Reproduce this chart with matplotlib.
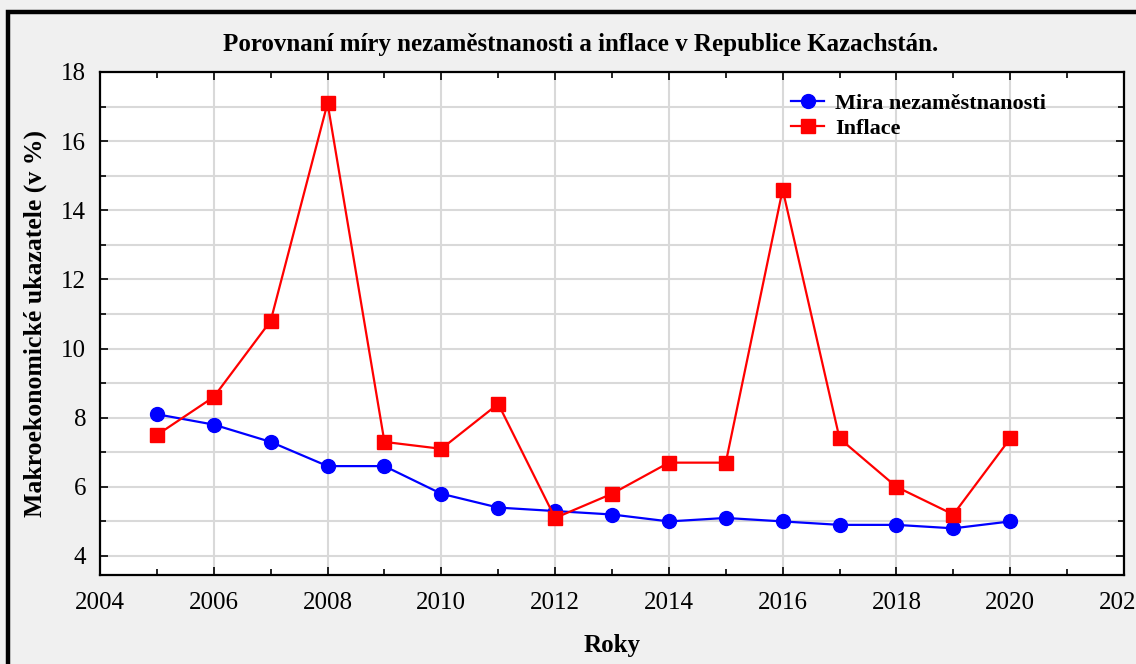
import numpy as np
import matplotlib
matplotlib.use("Agg")
import matplotlib.pyplot as plt
from matplotlib.patches import Rectangle
from matplotlib.ticker import MultipleLocator

# Data
years = [2005, 2006, 2007, 2008, 2009, 2010, 2011, 2012, 2013, 2014, 2015, 2016, 2017, 2018, 2019, 2020]
unemployment = [8.1, 7.8, 7.3, 6.6, 6.6, 5.8, 5.4, 5.3, 5.2, 5.0, 5.1, 5.0, 4.9, 4.9, 4.8, 5.0]
inflation = [7.5, 8.6, 10.8, 17.1, 7.3, 7.1, 8.4, 5.1, 5.8, 6.7, 6.7, 14.6, 7.4, 6.0, 5.2, 7.4]

title = "Porovnaní míry nezaměstnanosti a inflace v Republice Kazachstán."
x_label = "Roky"
y_label = "Makroekonomické ukazatele (v %)"
legend_labels = ["Mira nezaměstnanosti", "Inflace"]

plt.rcParams['font.family'] = ['Liberation Serif', 'DejaVu Serif']

figure = plt.figure(figsize=(11.36, 6.64), dpi=100)
figure.patch.set_facecolor("#f0f0f0")

# thick black frame around the whole picture (right/bottom fall off the image)
figure.patches.append(Rectangle((8 / 1136, -0.05), 1.2, 1 - 12 / 664 + 0.05,
                                transform=figure.transFigure, fill=False,
                                edgecolor="black", linewidth=3.2, zorder=10))

axes = figure.add_axes([100 / 1136, 89 / 664, 1024 / 1136, 503 / 664])
axes.set_facecolor("white")

axes.plot(years, unemployment, color="blue", marker="o", markersize=10,
          linewidth=1.6, label=legend_labels[0], zorder=3)
axes.plot(years, inflation, color="red", marker="s", markersize=9.5,
          linewidth=1.6, label=legend_labels[1], zorder=3)

axes.set_xlim(2004, 2022)
axes.set_ylim(3.45, 18)
axes.xaxis.set_major_locator(MultipleLocator(2))
axes.xaxis.set_minor_locator(MultipleLocator(1))
axes.yaxis.set_major_locator(MultipleLocator(2))
axes.yaxis.set_minor_locator(MultipleLocator(1))

axes.grid(True, which="major", axis="x", color="#d9d9d9", linewidth=1.5, zorder=0)
axes.grid(True, which="both", axis="y", color="#d9d9d9", linewidth=1.5, zorder=0)
axes.set_axisbelow(True)

axes.tick_params(which="both", direction="in", top=True, right=True,
                 width=1.2, colors="black")
axes.tick_params(which="major", length=6, labelsize=18)
axes.tick_params(axis="x", which="major", pad=12)
axes.tick_params(axis="y", which="major", pad=10)
axes.tick_params(which="minor", length=4)
for spine in axes.spines.values():
    spine.set_linewidth(1.6)
    spine.set_color("black")

figure.text(581 / 1136, 1 - 44 / 664, title, fontsize=18, fontweight="bold",
            ha="center", va="center")
axes.set_xlabel(x_label, fontsize=18, fontweight="bold")
axes.xaxis.set_label_coords(0.5, -(634 - 575) / 503)
axes.set_ylabel(y_label, fontsize=18.5, fontweight="bold")
axes.yaxis.set_label_coords(-(100 - 47) / 1024, 0.5)

legend = axes.legend(loc="upper left", bbox_to_anchor=(0.666, 0.975), frameon=False,
                     prop={"size": 16, "weight": "bold"}, handlelength=1.5,
                     handletextpad=0.5, labelspacing=0.2, borderaxespad=0.0)

figure.savefig("out.png", dpi=100, facecolor=figure.get_facecolor())
